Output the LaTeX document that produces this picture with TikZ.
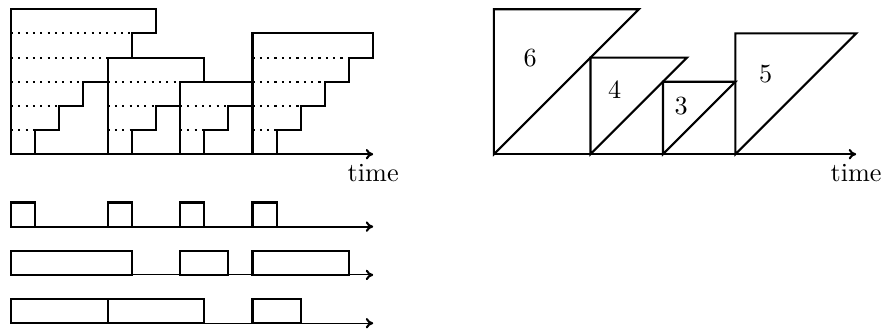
\documentclass[tikz,border=0pt]{standalone}
\usepackage{amsmath,amssymb}
\usepackage{tikz}
\usetikzlibrary{arrows.meta, positioning, calc}
\tikzset{
	job/.style={draw, thick, line join=miter},
	rowline/.style={thick, dotted},
	slot/.style={draw, thick},
	axis/.style={thick,-{To[length=1mm, width=1.4mm, line width=0.8pt]}},
	axisthin/.style={thin,-{To[length=1mm, width=1.4mm, line width=0.8pt]}},
	label/.style={font=\normalsize, inner sep=0pt}
}

\begin{document}
\begin{tikzpicture}[x=0.324cm, y=0.324cm]
		\useasboundingbox (-0.455,-7.2) rectangle (36.03,6.385);
		
		% Escaleras (izquierda)
		\foreach \s/\h in {0/6,4/4,7/3,10/5} {
			\draw [job] (\s,0) |- (\s+\h,\h) \foreach \k in {1,...,\h} { -- ++(0,-1) -- ++(-1,0) } -- cycle;
			\foreach \k in {1,...,\h} {
				\ifnum\k<\h \draw [rowline] (\s,\k) -- (\s+\k,\k); \fi
			}
		}
		\coordinate (startA) at (0,0);
		\coordinate (endA) at (15,0);
		\draw [axis] (startA) -- (endA) node (timeA) [below, font=\normalsize] {time};
		
		% Triangulos (derecha)
		\begin{scope}[shift={(20,0)}]
			\foreach \s/\h in {0/6,4/4,7/3,10/5} {
				\draw [job] (\s,0) -- (\s,\h) -- (\s+\h,\h) -- cycle;
				\node (size\h) [label] at (\s+\h/4, 2*\h/3) {\h};
			}
			\coordinate (startB) at (0,0);
			\coordinate (endB) at (15,0);
			\draw [axis] (startB) -- (endB) node (timeB) [below, font=\normalsize] {time};
		\end{scope}
		
		% Ocupacion (abajo)
		\foreach \a/\b in {0/1,4/5,7/8,10/11} \draw [slot] (\a,-3) rectangle (\b,-2);
		\foreach \a/\b in {0/5,7/9,10/14} \draw [slot] (\a,-5) rectangle (\b,-4);
		\foreach \a/\b in {0/4,4/8,10/12} \draw [slot] (\a,-7) rectangle (\b,-6);
		\coordinate (startC) at (0,-3);
		\coordinate (endC) at (15,-3);
		\coordinate (startD) at (0,-5);
		\coordinate (endD) at (15,-5);
		\coordinate (startE) at (0,-7);
		\coordinate (endE) at (15,-7);
		\draw [axis] (startC) -- (endC);
		\draw [axisthin] (startD) -- (endD);
		\draw [axisthin] (startE) -- (endE);
	\end{tikzpicture}
\end{document}
